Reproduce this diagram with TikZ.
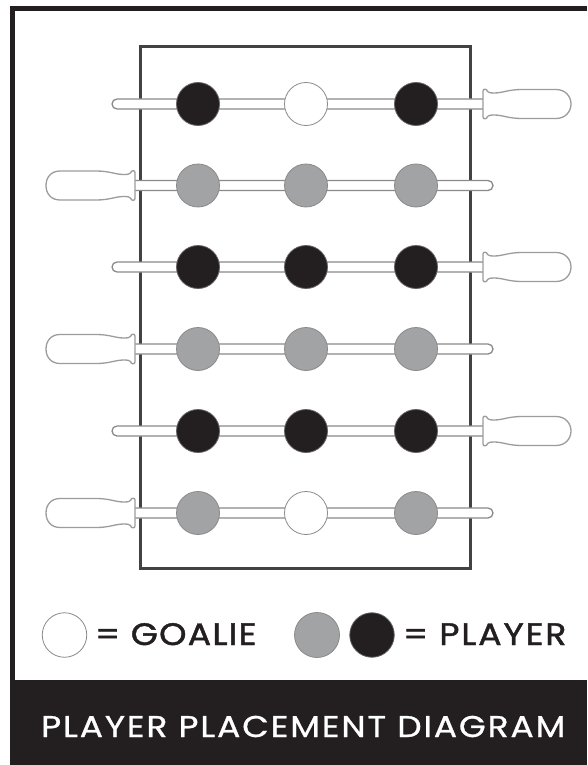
\documentclass[tikz,border=0pt]{standalone}
\usepackage{fontspec}
\setmainfont{Poppins}
\newfontfamily\goaliefont[FakeBold=1.4,FakeStretch=1.12,LetterSpace=4.2]{Poppins}
\newfontfamily\playerfont[FakeBold=1.4,FakeStretch=1.12,LetterSpace=6]{Poppins}
\newfontfamily\titlefont[FakeBold=0.9,FakeStretch=1.15,LetterSpace=6.2]{Poppins}
\definecolor{ink}{HTML}{231F20}
\definecolor{midgray}{HTML}{A2A3A5}
\definecolor{edge}{HTML}{8A8A8A}
\tikzset{
  puck/.style={circle,inner sep=0pt,minimum size=43pt,draw=edge,line width=0.8pt},
  blackpuck/.style={puck,fill=ink,draw=ink!70},
  graypuck/.style={puck,fill=midgray,draw=edge},
  whitepuck/.style={puck,fill=white,draw=edge},
  rodline/.style={draw=edge,fill=white,line width=1.3pt},
  handleline/.style={draw=edge!85,fill=white,line width=1.3pt},
  label/.style={inner sep=0pt,anchor=base west,text=ink},
}
\newcommand{\rightrow}[1]{%
  \draw[rodline] (484,#1-5) -- (112+5,#1-5) arc[start angle=90,end angle=270,radius=5pt] -- (484,#1+5);
  \draw[handleline] (483,#1-13) .. controls (483,#1-15.5) and (487,#1-15.5) .. (487.5,#1-12.5)
    .. controls (489,#1-11) and (491,#1-11) .. (494,#1-11)
    .. controls (503,#1-11) and (508,#1-14.5) .. (522,#1-14.5) -- (556,#1-14.5)
    .. controls (565,#1-14.5) and (571,#1-8) .. (571,#1)
    .. controls (571,#1+8) and (565,#1+14.5) .. (556,#1+14.5) -- (522,#1+14.5)
    .. controls (508,#1+14.5) and (503,#1+11) .. (494,#1+11)
    .. controls (491,#1+11) and (489,#1+11) .. (487.5,#1+12.5)
    .. controls (487,#1+15.5) and (483,#1+15.5) .. (483,#1+13) -- cycle;
}
\newcommand{\leftrow}[1]{%
  \draw[rodline] (134,#1-5) -- (493-5,#1-5) arc[start angle=90,end angle=-90,radius=5pt] -- (134,#1+5);
  \draw[handleline] (135,#1-13) .. controls (135,#1-15.5) and (131,#1-15.5) .. (130.5,#1-12.5)
    .. controls (129,#1-11) and (127,#1-11) .. (124,#1-11)
    .. controls (115,#1-11) and (110,#1-14.5) .. (96,#1-14.5) -- (60,#1-14.5)
    .. controls (51,#1-14.5) and (46,#1-8) .. (46,#1)
    .. controls (46,#1+8) and (51,#1+14.5) .. (60,#1+14.5) -- (96,#1+14.5)
    .. controls (110,#1+14.5) and (115,#1+11) .. (124,#1+11)
    .. controls (127,#1+11) and (129,#1+11) .. (130.5,#1+12.5)
    .. controls (131,#1+15.5) and (135,#1+15.5) .. (135,#1+13) -- cycle;
}
\begin{document}
\begin{tikzpicture}[x=1pt,y=-1pt]
\useasboundingbox (0,0) rectangle (587,765);
\fill[white] (0,0) rectangle (587,765);
% frame
\fill[ink] (10,6) rectangle (587,765);
\fill[white] (15,11) rectangle (587,680);
% table
\draw[ink!85,line width=2.2pt] (140.5,46.5) rectangle (470.5,568.5);
% rods and handles
\rightrow{104}
\leftrow{185.5}
\rightrow{267}
\leftrow{349}
\rightrow{431}
\leftrow{513}
% pucks
\node[blackpuck] (a1) at (198,104) {};
\node[whitepuck] (a2) at (306,104) {};
\node[blackpuck] (a3) at (416,104) {};
\node[graypuck] (b1) at (198,185.5) {};
\node[graypuck] (b2) at (306,185.5) {};
\node[graypuck] (b3) at (416,185.5) {};
\node[blackpuck] (c1) at (198,267) {};
\node[blackpuck] (c2) at (306,267) {};
\node[blackpuck] (c3) at (416,267) {};
\node[graypuck] (d1) at (198,349) {};
\node[graypuck] (d2) at (306,349) {};
\node[graypuck] (d3) at (416,349) {};
\node[blackpuck] (e1) at (198,431) {};
\node[blackpuck] (e2) at (306,431) {};
\node[blackpuck] (e3) at (416,431) {};
\node[graypuck] (f1) at (198,513) {};
\node[whitepuck] (f2) at (306,513) {};
\node[graypuck] (f3) at (416,513) {};
% legend
\node[whitepuck,minimum size=44.5pt] (lg) at (64.5,635) {};
\node[graypuck,minimum size=45pt] (lgray) at (317,635) {};
\node[blackpuck,minimum size=44.5pt] (lblack) at (372,635) {};
\node[label,font=\goaliefont\fontsize{31}{31}\selectfont] (tg) at (95,645) {= GOALIE};
\node[label,font=\playerfont\fontsize{31}{31}\selectfont] (tp) at (403,645) {= PLAYER};
\node[label,text=white,font=\titlefont\fontsize{30}{30}\selectfont] (title) at (41,737) {PLAYER PLACEMENT DIAGRAM};
\end{tikzpicture}
\end{document}
